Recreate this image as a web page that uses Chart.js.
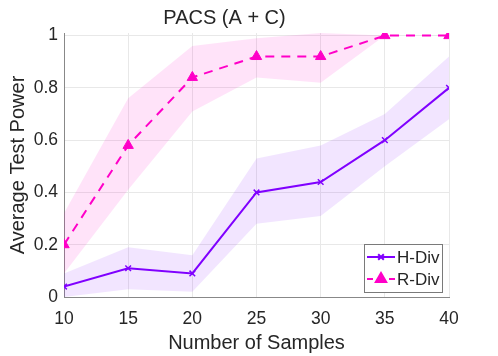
<!DOCTYPE html>
<html>
<head>
<meta charset="utf-8">
<script src="https://cdn.jsdelivr.net/npm/chart.js@4/dist/chart.umd.min.js"></script>
<style>
  html, body { margin: 0; padding: 0; background: #fff; }
  #wrap { width: 498px; height: 356px; }
</style>
</head>
<body>
<div id="wrap"><canvas id="powerChart" width="498" height="356"></canvas></div>
<script>
// values
const samples = [10, 15, 20, 25, 30, 35, 40];
const hDiv = [0.04, 0.11, 0.09, 0.40, 0.44, 0.60, 0.80];
const hDivLow = [0.0, 0.03, 0.02, 0.28, 0.31, 0.50, 0.68];
const hDivHigh = [0.09, 0.19, 0.16, 0.53, 0.58, 0.70, 0.92];
const rDiv = [0.20, 0.58, 0.84, 0.92, 0.92, 1.0, 1.0];
const rDivLow = [0.09, 0.41, 0.71, 0.84, 0.82, 1.0, 1.0];
const rDivHigh = [0.32, 0.76, 0.96, 0.99, 1.01, 1.0, 1.0];
const yTicks = [0, 0.2, 0.4, 0.6, 0.8, 1];
const xTicks = [10, 15, 20, 25, 30, 35, 40];

const purple = "rgb(128, 0, 255)";
const magenta = "rgb(255, 0, 200)";
const textColor = "#262626";
const font = "Liberation Sans, Arial, sans-serif";

const pts = (ys) => samples.map((x, i) => ({ x: x, y: ys[i] }));

// small legend drawn inside the axes, lower right
const boxLegend = {
  id: "boxLegend",
  afterDraw(chart) {
    const ctx = chart.ctx;
    const area = chart.chartArea;
    const items = chart.data.datasets.filter((d) => d.legendName);
    const w = 78, h = 48;
    const x0 = area.right - 7 - w;
    const y0 = area.bottom - 5 - h;
    ctx.save();
    ctx.fillStyle = "#fff";
    ctx.fillRect(x0, y0, w, h);
    ctx.strokeStyle = "#7a7a7a";
    ctx.lineWidth = 1;
    ctx.strokeRect(x0 + 0.5, y0 + 0.5, w, h);
    items.forEach((d, i) => {
      const cy = y0 + 13 + i * 22;
      ctx.strokeStyle = d.borderColor;
      ctx.fillStyle = d.borderColor;
      ctx.lineWidth = 2;
      ctx.setLineDash(d.borderDash ? [6, 5] : []);
      ctx.beginPath();
      ctx.moveTo(x0 + 3, cy);
      ctx.lineTo(x0 + 31, cy);
      ctx.stroke();
      ctx.setLineDash([]);
      Chart.helpers.drawPoint(ctx, {
        pointStyle: d.pointStyle,
        radius: d.pointRadius,
        borderWidth: d.pointBorderWidth || 1.5
      }, x0 + 17, cy);
      ctx.fillStyle = textColor;
      ctx.font = "17px " + font;
      ctx.textBaseline = "middle";
      ctx.textAlign = "left";
      ctx.fillText(d.legendName, x0 + 33, cy + 1);
    });
    ctx.restore();
  }
};

const ctx = document.getElementById("powerChart").getContext("2d");
new Chart(ctx, {
  type: "line",
  data: {
    datasets: [
      {
        data: pts(rDivLow),
        borderWidth: 0,
        pointRadius: 0,
        fill: false
      },
      {
        data: pts(rDivHigh),
        borderWidth: 0,
        pointRadius: 0,
        fill: "-1",
        backgroundColor: "rgba(255, 0, 200, 0.11)"
      },
      {
        data: pts(hDivLow),
        borderWidth: 0,
        pointRadius: 0,
        fill: false
      },
      {
        data: pts(hDivHigh),
        borderWidth: 0,
        pointRadius: 0,
        fill: "-1",
        backgroundColor: "rgba(128, 0, 255, 0.1)"
      },
      {
        legendName: "H-Div",
        data: pts(hDiv),
        borderColor: purple,
        backgroundColor: purple,
        borderWidth: 2,
        pointStyle: "crossRot",
        pointRadius: 4,
        pointBorderWidth: 1.5,
        pointBorderColor: purple,
        fill: false
      },
      {
        legendName: "R-Div",
        data: pts(rDiv),
        borderColor: magenta,
        backgroundColor: magenta,
        borderWidth: 2,
        borderDash: [9, 7],
        pointStyle: "triangle",
        pointRadius: 6,
        pointBorderWidth: 1,
        pointBorderColor: magenta,
        pointBackgroundColor: magenta,
        fill: false
      }
    ]
  },
  options: {
    responsive: false,
    animation: false,
    layout: { padding: { left: 0, right: 49, top: 0, bottom: 0 } },
    plugins: {
      legend: { display: false },
      tooltip: { enabled: false },
      filler: { drawTime: "beforeDatasetsDraw" },
      title: {
        display: true,
        text: "PACS (A + C)",
        color: textColor,
        font: { family: font, size: 20, weight: "normal" },
        padding: { top: 6, bottom: 3 }
      }
    },
    scales: {
      x: {
        type: "linear",
        min: 10,
        max: 40,
        afterBuildTicks: (scale) => { scale.ticks = xTicks.map((v) => ({ value: v })); },
        afterFit: (scale) => { scale.height = 59; },
        ticks: {
          color: textColor,
          font: { family: font, size: 17.5 },
          padding: 12,
          maxRotation: 0,
          callback: (v) => String(v)
        },
        grid: { color: "#e8e8e8", drawTicks: false },
        border: { color: "#888", width: 1 },
        title: {
          display: true,
          text: "Number of Samples",
          color: textColor,
          font: { family: font, size: 20 },
          padding: { top: 0, bottom: 1 }
        }
      },
      y: {
        min: 0,
        max: 1.01,
        afterBuildTicks: (scale) => { scale.ticks = yTicks.map((v) => ({ value: v })); },
        afterFit: (scale) => { scale.width = 64; },
        ticks: {
          color: textColor,
          font: { family: font, size: 17.5 },
          padding: 6,
          callback: (v) => String(v)
        },
        grid: { color: "#e8e8e8", drawTicks: false },
        border: { color: "#888", width: 1 },
        title: {
          display: true,
          text: "Average Test Power",
          color: textColor,
          font: { family: font, size: 20 },
          padding: { top: 6, bottom: 0 }
        }
      }
    }
  },
  plugins: [boxLegend]
});
</script>
</body>
</html>
